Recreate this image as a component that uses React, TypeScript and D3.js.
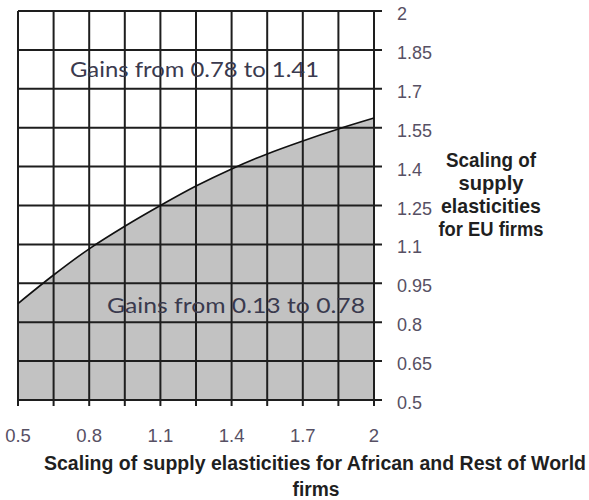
import React from "react";
import * as d3 from "d3";

// ---- Data ----
const curveX = [0.5, 0.65, 0.8, 0.95, 1.1, 1.25, 1.4, 1.55, 1.7, 1.85, 2.0];
const curveY = [0.872, 0.982, 1.083, 1.17, 1.25, 1.325, 1.391, 1.449, 1.499, 1.545, 1.587];
const gridValues = [0.5, 0.65, 0.8, 0.95, 1.1, 1.25, 1.4, 1.55, 1.7, 1.85, 2.0];
const xTickValues = [0.5, 0.8, 1.1, 1.4, 1.7, 2.0];
const xTickLabels = ["0.5", "0.8", "1.1", "1.4", "1.7", "2"];
const yTickLabels = ["0.5", "0.65", "0.8", "0.95", "1.1", "1.25", "1.4", "1.55", "1.7", "1.85", "2"];
const upperLabel = "Gains from 0.78 to 1.41";
const lowerLabel = "Gains from 0.13 to 0.78";
const xTitleLines = ["Scaling of supply elasticities for African and Rest of World", "firms"];
const yTitleLines = ["Scaling of", "supply", "elasticities", "for EU firms"];

export default function App() {
  const W = 589, H = 500;
  const left = 18, right = 374, top = 11, bottom = 400;
  const x = d3.scaleLinear().domain([0.5, 2]).range([left, right]);
  const y = d3.scaleLinear().domain([0.5, 2]).range([bottom, top]);
  const pts = curveX.map((v, i) => [v, curveY[i]] as [number, number]);
  const area = d3.area<[number, number]>()
    .x(d => x(d[0])).y0(y(0.5)).y1(d => y(d[1])).curve(d3.curveCatmullRom);
  const line = d3.line<[number, number]>()
    .x(d => x(d[0])).y(d => y(d[1])).curve(d3.curveCatmullRom);
  const gridColor = "#1e1e1e";
  const tickColor = "#575064";
  const inColor = "#3a3a4e";
  const titleColor = "#1f1f1f";
  return (
    <svg width={W} height={H} style={{ position: "absolute", left: 0, top: 0, background: "#fff" }}>
      <path d={area(pts) || ""} fill="#c2c2c2" />
      {gridValues.map((v, i) => (
        <line key={"gx" + i} x1={x(v)} x2={x(v)} y1={top} y2={bottom + 6} stroke={gridColor} strokeWidth={2} />
      ))}
      {gridValues.map((v, i) => (
        <line key={"gy" + i} x1={left} x2={right + 8} y1={y(v)} y2={y(v)} stroke={gridColor} strokeWidth={2} />
      ))}
      <path d={line(pts) || ""} fill="none" stroke="#111" strokeWidth={1.6} />
      {xTickValues.map((v, i) => (
        <text key={"xt" + i} x={x(v)} y={442} textAnchor="middle" fontFamily="Liberation Sans, Arial, sans-serif" fontSize={18.5} fill={tickColor}>{xTickLabels[i]}</text>
      ))}
      {gridValues.map((v, i) => (
        <text key={"yt" + i} x={397} y={y(v) + 9} textAnchor="start" fontFamily="Liberation Sans, Arial, sans-serif" fontSize={18} fill={tickColor}>{yTickLabels[i]}</text>
      ))}
      <text x={70} y={77} fontFamily="Lato, sans-serif" fontSize={21} fill={inColor} textLength={249} lengthAdjust="spacingAndGlyphs">{upperLabel}</text>
      <text x={107} y={313} fontFamily="Lato, sans-serif" fontSize={21} fill={inColor} textLength={258} lengthAdjust="spacingAndGlyphs">{lowerLabel}</text>
      <g transform="translate(315,470) scale(1,1.15)">
        <text x={0} y={0} textAnchor="middle" fontFamily="Liberation Sans, Arial, sans-serif" fontWeight="bold" fontSize={17.5} fill={titleColor} textLength={542} lengthAdjust="spacingAndGlyphs">{xTitleLines[0]}</text>
      </g>
      <g transform="translate(316,496) scale(1,1.15)">
        <text x={0} y={0} textAnchor="middle" fontFamily="Liberation Sans, Arial, sans-serif" fontWeight="bold" fontSize={17.5} fill={titleColor} textLength={47} lengthAdjust="spacingAndGlyphs">{xTitleLines[1]}</text>
      </g>
      {yTitleLines.map((t, i) => (
        <text key={"yl" + i} x={491} y={167 + i * 23} textAnchor="middle" fontFamily="Liberation Sans, Arial, sans-serif" fontWeight="bold" fontSize={21} fill={titleColor} textLength={[90, 65, 100, 105][i]} lengthAdjust="spacingAndGlyphs">{t}</text>
      ))}
    </svg>
  );
}
